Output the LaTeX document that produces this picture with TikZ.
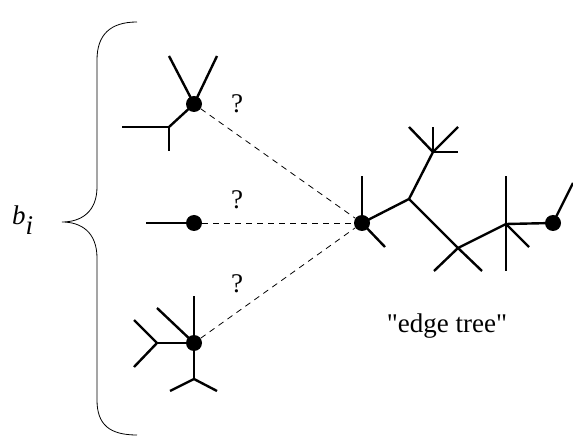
\documentclass[tikz,border=0pt]{standalone}
\usepackage{fontspec}
\setmainfont{Liberation Serif}
\newfontfamily\droitfont{Liberation Serif}
\begin{document}
\begin{tikzpicture}[x=1pt,y=-1pt]
\tikzset{sommet/.style={circle, fill, inner sep=0pt, minimum size=16pt},
  arete/.style={line width=2.4pt},
  lien/.style={line width=0.8pt, dash pattern=on 6pt off 5pt},
  etiq/.style={font=\fontsize{27}{32}\selectfont, inner sep=0pt}}
\useasboundingbox (0,0) rectangle (573,443);
% the brace
\draw[line width=0.8pt] (137,22) .. controls (110,22) and (97,35) .. (97,60) -- (97,187)
  .. controls (97,212) and (81,222) .. (62,222) .. controls (81,222) and (97,232) .. (97,258)
  -- (97,400) .. controls (97,425) and (110,435) .. (137,435);
\node[etiq, anchor=base west] (B) at (12,225) {\textit{b}$_{\textit{i}}$};
% the three vertices on the left
\node[sommet] (H) at (194,104) {};
\node[sommet] (M) at (194,223) {};
\node[sommet] (L) at (194,343) {};
% the edge tree
\node[sommet] (R) at (362,223) {};
\node[sommet] (E) at (553,223) {};
\coordinate (T1) at (409,199);
\coordinate (T2) at (433,152);
\coordinate (T3) at (458,248);
\coordinate (T4) at (506,224);
% top vertex
\coordinate (H1) at (169,127);
\draw[arete] (H.center) -- (169,56);
\draw[arete] (H.center) -- (217,56);
\draw[arete] (H.center) -- (H1);
\draw[arete] (H1) -- (122,127);
\draw[arete] (H1) -- (169,151);
% middle vertex
\draw[arete] (M.center) -- (146,223);
% bottom vertex
\coordinate (L1) at (157,343);
\coordinate (L2) at (194,379);
\draw[arete] (L.center) -- (194,296);
\draw[arete] (L.center) -- (157,308);
\draw[arete] (L.center) -- (L1);
\draw[arete] (L1) -- (134,320);
\draw[arete] (L1) -- (134,367);
\draw[arete] (L.center) -- (L2);
\draw[arete] (L2) -- (170,391);
\draw[arete] (L2) -- (217,391);
% right tree
\draw[arete] (R.center) -- (362,176);
\draw[arete] (R.center) -- (385,247);
\draw[arete] (R.center) -- (T1);
\draw[arete] (T1) -- (T2);
\draw[arete] (T1) -- (T3);
\draw[arete] (T2) -- (409,127);
\draw[arete] (T2) -- (433,127);
\draw[arete] (T2) -- (458,127);
\draw[arete] (T2) -- (458,152);
\draw[arete] (T3) -- (434,271);
\draw[arete] (T3) -- (482,271);
\draw[arete] (T3) -- (T4);
\draw[arete] (T4) -- (506,176);
\draw[arete] (T4) -- (506,271);
\draw[arete] (T4) -- (529,247);
\draw[arete] (T4) -- (E.center);
\draw[arete] (E.center) -- (573,183);
% dashed links
\draw[lien] (H) -- (R);
\draw[lien] (M) -- (R);
\draw[lien] (L) -- (R);
\node[etiq] (Q1) at (237,104) {?};
\node[etiq] (Q2) at (237,200) {?};
\node[etiq] (Q3) at (237,284) {?};
\node[etiq, anchor=base] (N) at (447,333) {\droitfont "edge tree"};
\end{tikzpicture}
\end{document}
